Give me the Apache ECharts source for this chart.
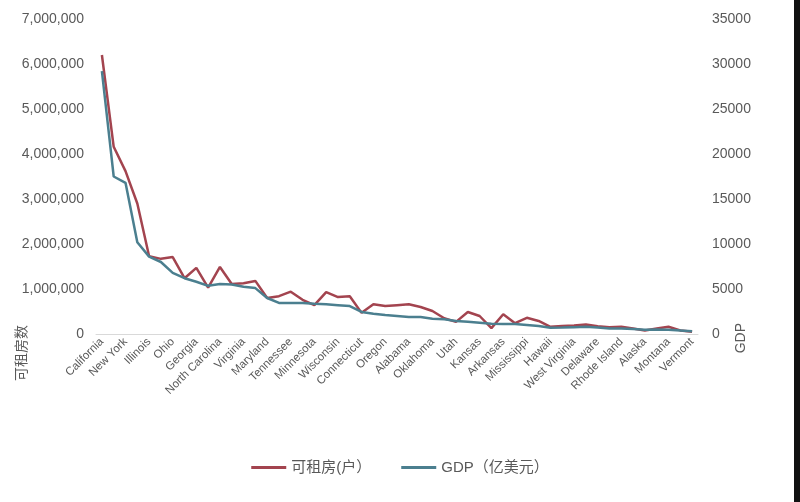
<!DOCTYPE html>
<html><head><meta charset="utf-8">
<script src="https://cdn.jsdelivr.net/npm/echarts@6/dist/echarts.min.js"></script>
<style>html,body{margin:0;padding:0;background:#fff}#c{width:800px;height:502px}</style>
</head><body><div id="c"></div>
<script>
const states = ["California","Texas","New York","Florida","Illinois","Pennsylvania","Ohio","New Jersey","Georgia","Washington","North Carolina","Massachusetts","Virginia","Michigan","Maryland","Colorado","Tennessee","Indiana","Minnesota","Arizona","Wisconsin","Missouri","Connecticut","Louisiana","Oregon","South Carolina","Alabama","Kentucky","Oklahoma","Iowa","Utah","Nevada","Kansas","District of Columbia","Arkansas","Nebraska","Mississippi","New Mexico","Hawaii","Idaho","West Virginia","New Hampshire","Delaware","Maine","Rhode Island","North Dakota","Alaska","South Dakota","Montana","Wyoming","Vermont"];
const rentals = [6200000,4160000,3620000,2900000,1730000,1670000,1710000,1240000,1470000,1030000,1490000,1110000,1130000,1180000,800000,840000,940000,760000,640000,930000,820000,840000,470000,660000,620000,640000,660000,600000,510000,350000,270000,490000,400000,130000,440000,240000,360000,290000,160000,180000,190000,210000,170000,150000,160000,120000,80000,120000,160000,80000,50000];
const gdp = [29200,17500,16800,10200,8600,8000,6800,6200,5800,5350,5550,5500,5250,5100,4000,3450,3450,3450,3350,3300,3200,3100,2450,2250,2100,2000,1900,1880,1700,1650,1450,1350,1250,1150,1100,1100,1000,900,700,720,760,800,720,620,600,550,480,500,480,400,300];
const seriesNames = ["可租房(户）","GDP（亿美元）"];
const leftAxisName = "可租房数";
const rightAxisName = "GDP";

const font = '"Liberation Sans", Arial, "Noto Sans CJK SC", sans-serif';
const chart = echarts.init(document.getElementById('c'), null, {renderer:'canvas'});
chart.setOption({
  animation:false,
  backgroundColor:'#ffffff',
  textStyle:{fontFamily:font},
  grid:{left:96,right:102,top:19,bottom:168,containLabel:false},
  legend:{
    bottom:22,left:'center',
    icon:'rect',itemWidth:35,itemHeight:3,itemGap:30,
    textStyle:{color:'#595959',fontSize:15,fontFamily:font},
    data:seriesNames
  },
  xAxis:{
    type:'category',data:states,boundaryGap:true,
    axisLine:{lineStyle:{color:'#d9d9d9',width:1}},
    axisTick:{show:false},
    axisLabel:{interval:1,rotate:45,color:'#595959',fontSize:11.5,margin:6,fontFamily:font}
  },
  yAxis:[{
    type:'value',min:0,max:7000000,interval:1000000,
    axisLine:{show:false},axisTick:{show:false},splitLine:{show:false},
    axisLabel:{color:'#595959',fontSize:14,margin:12,fontFamily:font,
      formatter:v=>v.toLocaleString('en-US')}
  },{
    type:'value',min:0,max:35000,interval:5000,position:'right',
    axisLine:{show:false},axisTick:{show:false},splitLine:{show:false},
    axisLabel:{color:'#595959',fontSize:14,margin:14,fontFamily:font,
      formatter:v=>String(v)}
  }],
  graphic:[
    {type:'text',left:14,top:325,rotation:Math.PI/2,style:{text:leftAxisName,fill:'#595959',font:'14px "Noto Sans CJK SC", sans-serif'}},
    {type:'text',left:734,top:323,rotation:Math.PI/2,style:{text:rightAxisName,fill:'#595959',font:'14px '+font}},
    {type:'rect',shape:{x:794,y:0,width:6,height:502},style:{fill:'#111'}}
  ],
  series:[{
    name:seriesNames[0],type:'line',data:rentals,yAxisIndex:0,
    showSymbol:false,symbol:'none',
    lineStyle:{color:'#a3444f',width:2.5},itemStyle:{color:'#a3444f'}
  },{
    name:seriesNames[1],type:'line',data:gdp,yAxisIndex:1,
    showSymbol:false,symbol:'none',
    lineStyle:{color:'#4b7f8f',width:2.5},itemStyle:{color:'#4b7f8f'}
  }]
});
</script></body></html>
